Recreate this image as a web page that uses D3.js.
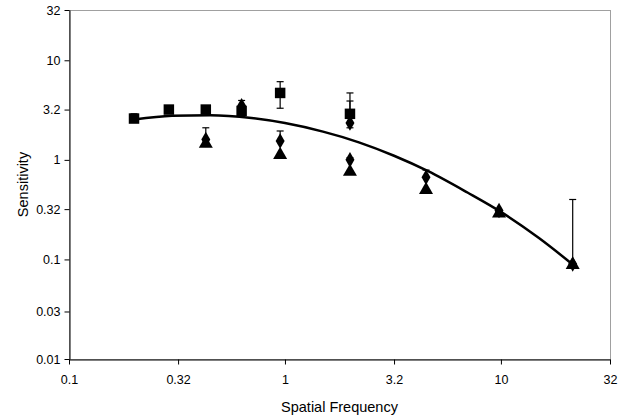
<!DOCTYPE html>
<html>
<head>
<meta charset="utf-8">
<script src="https://cdn.jsdelivr.net/npm/d3@7"></script>
<style>
  body { margin: 0; background: #fff; }
  text { font-family: "Liberation Sans", Arial, sans-serif; }
</style>
</head>
<body>
<div id="chart"></div>
<script>
var W = 634, H = 418;
var margin = { top: 10, right: 24, bottom: 59, left: 69 };

// tick labels
var xTicks = [0.1, 0.32, 1, 3.2, 10, 32];
var yTicks = [0.01, 0.03, 0.1, 0.32, 1, 3.2, 10, 32];

// squares
var sqFreq = [0.2, 0.29, 0.43, 0.63, 0.95, 2.0];
var sqVal  = [2.6, 3.2, 3.2, 3.1, 4.7, 2.9];
var sqHi   = [2.9, null, null, null, 6.1, 4.7];
var sqLo   = [null, null, null, null, 3.3, null];

// diamonds (upper)
var dUpFreq = [0.63, 2.0];
var dUpVal  = [3.5, 2.35];
var dUpHi   = [3.95, 3.9];
var dUpLo   = [null, 2.1];

// diamonds (lower)
var dFreq = [0.43, 0.95, 2.0, 4.5, 9.8, 21.5];
var dVal  = [1.6, 1.55, 1.0, 0.67, 0.31, 0.09];
var dHi   = [2.1, 1.95, 1.05, 0.79, null, 0.40];
var dLo   = [null, null, null, null, null, null];

// triangles
var tFreq = [0.43, 0.95, 2.0, 4.5, 9.8, 21.5];
var tVal  = [1.45, 1.12, 0.76, 0.5, 0.29, 0.088];

// fitted curve
var fitFreq = [0.2, 0.3, 0.45, 0.7, 1, 1.5, 2.2, 3.2, 4.6, 7, 10, 15, 21.5];
var fitVal  = [2.54, 2.77, 2.81, 2.63, 2.34, 1.92, 1.5, 1.1, 0.77, 0.47, 0.3, 0.164, 0.089];

var svg = d3.select("#chart").append("svg")
  .attr("width", W)
  .attr("height", H);

var x = d3.scaleLog()
  .domain([0.1, 32])
  .range([margin.left, W - margin.right]);
var y = d3.scaleLog()
  .domain([0.01, 32])
  .range([H - margin.bottom, margin.top]);

// plot border (grey top/right)
svg.append("rect")
  .attr("x", margin.left + 0.5)
  .attr("y", margin.top + 0.5)
  .attr("width", W - margin.right - margin.left)
  .attr("height", H - margin.bottom - margin.top)
  .attr("fill", "none")
  .attr("stroke", "#a0a0a0");

var xAxis = d3.axisBottom(x)
  .tickValues(xTicks)
  .tickFormat(function(d) { return String(d); })
  .tickSize(5)
  .tickSizeOuter(0)
  .tickPadding(11);
var yAxis = d3.axisLeft(y)
  .tickValues(yTicks)
  .tickFormat(function(d) { return String(d); })
  .tickSize(5)
  .tickSizeOuter(0)
  .tickPadding(4);

var gx = svg.append("g")
  .attr("transform", "translate(0," + (H - margin.bottom + 0.5) + ")")
  .call(xAxis);
var gy = svg.append("g")
  .attr("transform", "translate(" + (margin.left + 0.5) + ",0)")
  .call(yAxis);
[gx, gy].forEach(function(g) {
  g.selectAll("text").attr("font-size", 12.5).attr("fill", "#000")
    .attr("font-family", "Liberation Sans, Arial, sans-serif");
  g.selectAll("line, path").attr("stroke", "#000");
});

svg.append("text")
  .attr("text-anchor", "middle")
  .attr("x", (margin.left + W - margin.right) / 2)
  .attr("y", 412)
  .attr("font-size", 14.5)
  .text("Spatial Frequency");
svg.append("text")
  .attr("text-anchor", "middle")
  .attr("transform", "translate(28," + ((margin.top + H - margin.bottom) / 2) + ")rotate(-90)")
  .attr("font-size", 14.5)
  .text("Sensitivity");

// error bars
function errBars(freq, val, hi, lo) {
  var g = svg.append("g").attr("stroke", "#000").attr("stroke-width", 1.2);
  freq.forEach(function(f, i) {
    var cx = x(f);
    [hi[i], lo[i]].forEach(function(e) {
      if (e == null) return;
      g.append("line")
        .attr("x1", cx).attr("x2", cx)
        .attr("y1", y(val[i])).attr("y2", y(e));
      g.append("line")
        .attr("x1", cx - 3.5).attr("x2", cx + 3.5)
        .attr("y1", y(e)).attr("y2", y(e));
    });
  });
}
errBars(sqFreq, sqVal, sqHi, sqLo);
errBars(dUpFreq, dUpVal, dUpHi, dUpLo);
errBars(dFreq, dVal, dHi, dLo);

// fitted curve
var line = d3.line()
  .x(function(d, i) { return x(fitFreq[i]); })
  .y(function(d, i) { return y(fitVal[i]); })
  .curve(d3.curveMonotoneX);
svg.append("path")
  .attr("d", line(fitFreq))
  .attr("fill", "none")
  .attr("stroke", "#000")
  .attr("stroke-width", 2.5);

// markers
function markers(freq, val, type, size) {
  svg.append("g").selectAll("path")
    .data(freq)
    .enter()
    .append("path")
    .attr("d", d3.symbol().type(type).size(size))
    .attr("transform", function(d, i) {
      return "translate(" + x(d) + "," + y(val[i]) + ")";
    })
    .attr("fill", "#000");
}
markers(tFreq, tVal, d3.symbolTriangle, 85);
markers(dFreq, dVal, d3.symbolDiamond, 70);
markers(dUpFreq, dUpVal, d3.symbolDiamond, 70);
markers(sqFreq, sqVal, d3.symbolSquare, 110);
</script>
</body>
</html>
